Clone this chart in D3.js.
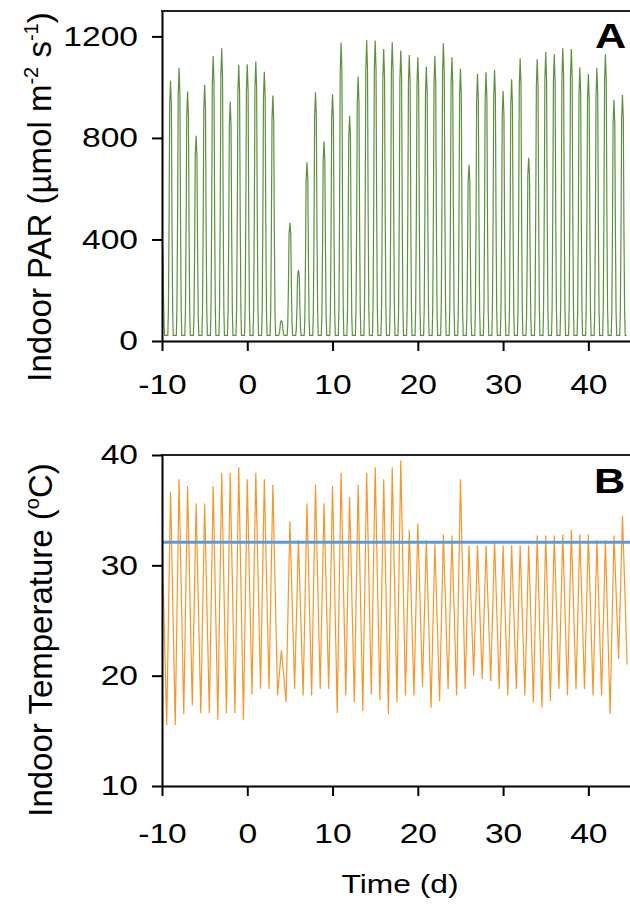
<!DOCTYPE html>
<html>
<head>
<meta charset="utf-8">
<script src="https://cdn.jsdelivr.net/npm/d3@7"></script>
<style>
  body { margin: 0; background: #fff; }
  text { font-family: "Liberation Sans", Arial, sans-serif; fill: #000; }
</style>
</head>
<body>
<div id="chart"></div>
<script>
// 1: DATA (one value per day)
const days = [-10, -9, -8, -7, -6, -5, -4, -3, -2, -1, 0, 1, 2, 3, 4, 5, 6, 7, 8, 9,
              10, 11, 12, 13, 14, 15, 16, 17, 18, 19, 20, 21, 22, 23, 24, 25, 26, 27, 28, 29,
              30, 31, 32, 33, 34, 35, 36, 37, 38, 39, 40, 41, 42, 43, 44];

// daily maximum of indoor PAR (umol m-2 s-1)
const parPeak = [390, 1026, 1075, 983, 808, 1009, 1123, 1153, 943, 1088,
                 1090, 1101, 1061, 967, 80, 466, 280, 704, 980, 786,
                 972, 1176, 887, 1042, 1186, 1184, 1150, 1177, 1144, 1127,
                 1118, 1081, 1124, 1173, 1118, 1072, 694, 1052, 1059, 1068,
                 985, 1031, 1114, 722, 1110, 1138, 1131, 1153, 1150, 1077,
                 1052, 1075, 1130, 950, 969];
const parNight = 22;
// shape of one light day around its peak (offset in days, fraction of the peak)
const dayOffset = [-0.5, -0.32, -0.25, -0.17, -0.1, 0, 0.1, 0.17, 0.25, 0.32, 0.5];
const dayFrac   = [0, 0, 0.1, 0.45, 0.9, 1, 0.9, 0.45, 0.1, 0, 0];

// daily max and following night min of indoor temperature (degC)
const tempPeak = [32.9, 36.7, 37.8, 37.2, 35.6, 35.6, 37.2, 38.4, 38.4, 38.9,
                  37.8, 38.4, 37.8, 37.3, 22.3, 34.0, 32.3, 35.6, 37.3, 35.6,
                  37.2, 38.4, 36.2, 37.3, 38.4, 38.9, 37.8, 38.9, 39.5, 33.2,
                  33.8, 32.3, 32.0, 32.8, 32.7, 37.8, 31.8, 31.8, 31.8, 32.2,
                  31.8, 31.8, 31.8, 31.8, 32.7, 32.7, 32.7, 32.8, 33.2, 32.8,
                  32.8, 32.3, 32.3, 32.7, 34.5];
const tempMin  = [15.5, 15.5, 16.5, 17.3, 16.6, 16.6, 16.0, 16.6, 16.6, 16.0,
                  18.3, 18.8, 18.8, 18.2, 17.6, 18.8, 18.2, 18.2, 18.8, 18.8,
                  16.6, 18.2, 17.6, 16.8, 18.3, 17.8, 16.5, 17.6, 18.2, 18.2,
                  19.0, 17.1, 17.7, 18.8, 18.2, 18.8, 20.0, 19.7, 19.5, 18.8,
                  18.2, 18.8, 18.2, 17.6, 17.1, 17.7, 18.8, 18.2, 18.8, 18.8,
                  18.2, 18.2, 16.5, 21.5, 21.0];
const minLag = 0.55; // night minimum comes ~0.55 d after the peak
const tempThreshold = 32.1; // blue reference line

const xTicks = [-10, 0, 10, 20, 30, 40];
const parTicks = [0, 400, 800, 1200];
const tempTicks = [10, 20, 30, 40];

// build the line points
const parData = [];
days.forEach((d, i) => {
    dayOffset.forEach((o, k) => {
        parData.push({ t: d + o, v: parNight + (parPeak[i] - parNight) * dayFrac[k] });
    });
});
const tempData = [];
days.forEach((d, i) => {
    tempData.push({ t: d, v: tempPeak[i] });
    tempData.push({ t: d + minLag, v: tempMin[i] });
});

// 2: SVG
const W = 630, H = 909;
const svg = d3.select("#chart").append("svg")
    .attr("width", W)
    .attr("height", H);

const x = d3.scaleLinear().domain([-10, 45]).range([162, 631]);
const yPar = d3.scaleLinear().domain([0, 1300]).range([341, 11]);
const yTemp = d3.scaleLinear().domain([10, 40]).range([786, 455]);

svg.append("clipPath").attr("id", "clipA")
    .append("rect").attr("x", 162).attr("y", 0).attr("width", 470).attr("height", 341);
svg.append("clipPath").attr("id", "clipB")
    .append("rect").attr("x", 162).attr("y", 440).attr("width", 470).attr("height", 346);

const stretch = "scale(1.2,1)"; // the figure's lettering is a bit wide

function styleAxis(g) {
    g.select(".domain").attr("stroke", "#000").attr("stroke-width", 2);
    g.selectAll(".tick line").attr("stroke", "#000").attr("stroke-width", 2);
    g.selectAll(".tick text")
        .attr("font-size", 28)
        .attr("font-family", "Liberation Sans, Arial, sans-serif")
        .attr("transform", stretch);
}

// 3: PANEL A - PAR
svg.append("line")
    .attr("x1", 161).attr("x2", 631)
    .attr("y1", yPar.range()[1]).attr("y2", yPar.range()[1])
    .attr("stroke", "#222").attr("stroke-width", 2);

svg.append("path")
    .datum(parData)
    .attr("clip-path", "url(#clipA)")
    .attr("fill", "none")
    .attr("stroke", "#5d9140")
    .attr("stroke-width", 1.2)
    .attr("d", d3.line().x(d => x(d.t)).y(d => yPar(d.v)));

svg.append("g")
    .attr("transform", "translate(0,341)")
    .call(d3.axisBottom(x).tickValues(xTicks).tickFormat(d => d)
        .tickSize(10).tickPadding(23).tickSizeOuter(0))
    .call(styleAxis);

svg.append("g")
    .attr("transform", "translate(162,0)")
    .call(d3.axisLeft(yPar).tickValues(parTicks).tickFormat(d => d)
        .tickSize(10).tickPadding(10).tickSizeOuter(0))
    .call(styleAxis);

const labA = svg.append("text")
    .attr("transform", "translate(51,197) rotate(-90)")
    .attr("text-anchor", "middle")
    .attr("font-size", 33);
labA.append("tspan").text("Indoor PAR (µmol m");
labA.append("tspan").attr("font-size", 20).attr("dy", -13).text("-2");
labA.append("tspan").attr("dy", 13).text(" s");
labA.append("tspan").attr("font-size", 20).attr("dy", -13).text("-1");
labA.append("tspan").attr("dy", 13).text(")");

svg.append("text")
    .attr("transform", `translate(595,48) ${stretch}`)
    .attr("font-size", 36)
    .attr("font-weight", "bold")
    .text("A");

// 4: PANEL B - TEMPERATURE
svg.append("line")
    .attr("x1", 161).attr("x2", 631)
    .attr("y1", yTemp.range()[1]).attr("y2", yTemp.range()[1])
    .attr("stroke", "#222").attr("stroke-width", 2);

svg.append("path")
    .datum(tempData)
    .attr("clip-path", "url(#clipB)")
    .attr("fill", "none")
    .attr("stroke", "#f7962a")
    .attr("stroke-width", 1.2)
    .attr("d", d3.line().x(d => x(d.t)).y(d => yTemp(d.v)));

svg.append("line")
    .attr("x1", x(-10)).attr("x2", 631)
    .attr("y1", yTemp(tempThreshold)).attr("y2", yTemp(tempThreshold))
    .attr("stroke", "#5b9bd5").attr("stroke-width", 3);

svg.append("g")
    .attr("transform", "translate(0,786)")
    .call(d3.axisBottom(x).tickValues(xTicks).tickFormat(d => d)
        .tickSize(10).tickPadding(27).tickSizeOuter(0))
    .call(styleAxis);

svg.append("g")
    .attr("transform", "translate(162,0)")
    .call(d3.axisLeft(yTemp).tickValues(tempTicks).tickFormat(d => d)
        .tickSize(10).tickPadding(10).tickSizeOuter(0))
    .call(styleAxis);

const labB = svg.append("text")
    .attr("transform", "translate(52,640) rotate(-90)")
    .attr("text-anchor", "middle")
    .attr("font-size", 33);
labB.append("tspan").text("Indoor Temperature (");
labB.append("tspan").attr("font-size", 20).attr("dy", -13).text("o");
labB.append("tspan").attr("dy", 13).text("C)");

svg.append("text")
    .attr("transform", `translate(594,493) ${stretch}`)
    .attr("font-size", 36)
    .attr("font-weight", "bold")
    .text("B");

// x-axis title
svg.append("text")
    .attr("transform", "translate(400,893) scale(1.22,1)")
    .attr("text-anchor", "middle")
    .attr("font-size", 26)
    .text("Time (d)");
</script>
</body>
</html>
